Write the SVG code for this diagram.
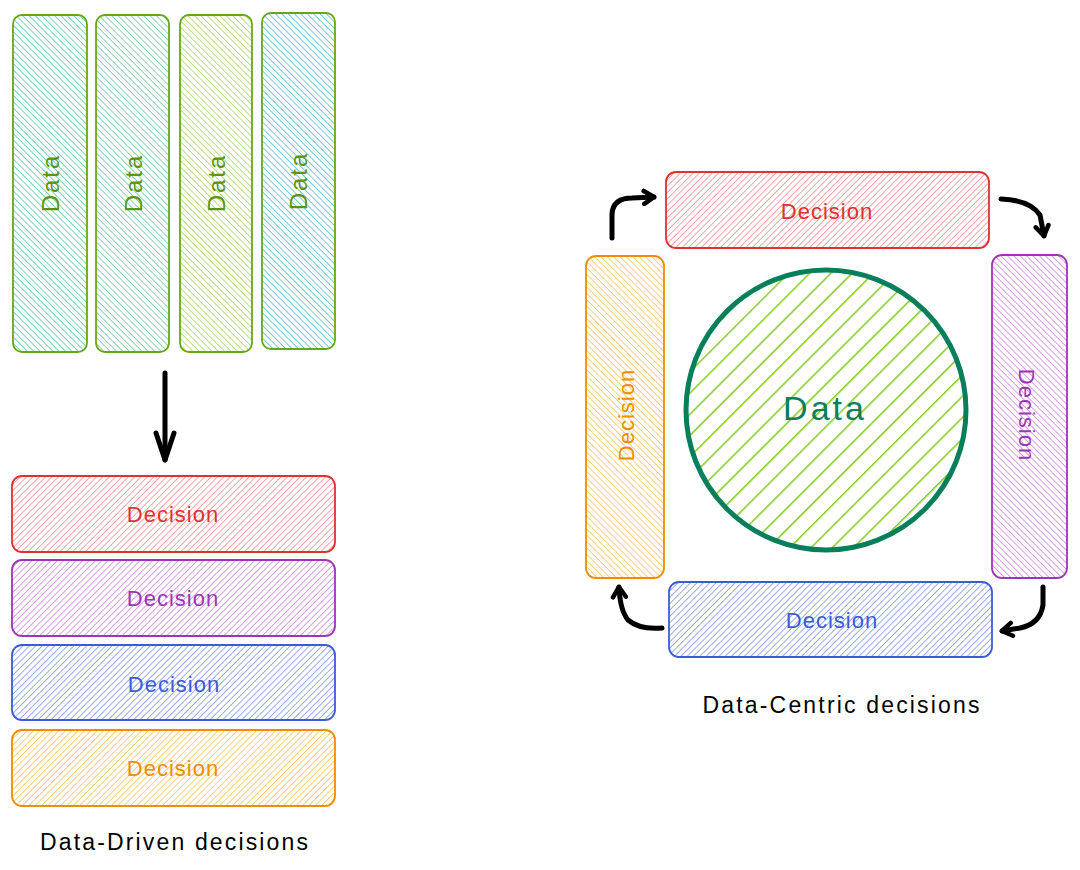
<svg xmlns="http://www.w3.org/2000/svg" width="1080" height="870" viewBox="0 0 1080 870">
  <defs>
    <pattern id="hTeal" patternUnits="userSpaceOnUse" width="4.5" height="4.5" patternTransform="rotate(-45)"><line x1="0" y1="0" x2="0" y2="4.5" stroke="#20b98c" stroke-width="1.2"/></pattern>
    <pattern id="hGreen" patternUnits="userSpaceOnUse" width="4.5" height="4.5" patternTransform="rotate(-45)"><line x1="0" y1="0" x2="0" y2="4.5" stroke="#40b87a" stroke-width="1.2"/></pattern>
    <pattern id="hLime" patternUnits="userSpaceOnUse" width="4.5" height="4.5" patternTransform="rotate(-45)"><line x1="0" y1="0" x2="0" y2="4.5" stroke="#8cc836" stroke-width="1.2"/></pattern>
    <pattern id="hCyan" patternUnits="userSpaceOnUse" width="4.5" height="4.5" patternTransform="rotate(-45)"><line x1="0" y1="0" x2="0" y2="4.5" stroke="#1fa6cf" stroke-width="1.2"/></pattern>
    <pattern id="hRed" patternUnits="userSpaceOnUse" width="4.5" height="4.5" patternTransform="rotate(45)"><line x1="0" y1="0" x2="0" y2="4.5" stroke="#ef6b6b" stroke-width="1.2"/></pattern>
    <pattern id="hPurple" patternUnits="userSpaceOnUse" width="4.5" height="4.5" patternTransform="rotate(45)"><line x1="0" y1="0" x2="0" y2="4.5" stroke="#bd63d4" stroke-width="1.2"/></pattern>
    <pattern id="hBlue" patternUnits="userSpaceOnUse" width="4.5" height="4.5" patternTransform="rotate(45)"><line x1="0" y1="0" x2="0" y2="4.5" stroke="#5577e6" stroke-width="1.2"/></pattern>
    <pattern id="hOrange" patternUnits="userSpaceOnUse" width="4.5" height="4.5" patternTransform="rotate(45)"><line x1="0" y1="0" x2="0" y2="4.5" stroke="#f9b02c" stroke-width="1.2"/></pattern>
    <pattern id="hPurpleV" patternUnits="userSpaceOnUse" width="4.5" height="4.5" patternTransform="rotate(-45)"><line x1="0" y1="0" x2="0" y2="4.5" stroke="#bd63d4" stroke-width="1.2"/></pattern>
    <pattern id="hOrangeV" patternUnits="userSpaceOnUse" width="4.5" height="4.5" patternTransform="rotate(-45)"><line x1="0" y1="0" x2="0" y2="4.5" stroke="#f9b02c" stroke-width="1.2"/></pattern>
    <pattern id="hCircle" patternUnits="userSpaceOnUse" width="15" height="15" patternTransform="rotate(45)"><line x1="0" y1="0" x2="0" y2="15" stroke="#82c91e" stroke-width="3"/></pattern>
    <marker id="ah" markerWidth="18" markerHeight="18" refX="13" refY="9" orient="auto" markerUnits="userSpaceOnUse" viewBox="0 0 18 18">
      <path d="M3,2.5 L13,9 L3,15.5" fill="none" stroke="#000" stroke-width="4.5" stroke-linecap="round" stroke-linejoin="round"/>
    </marker>
    <marker id="ahBig" markerWidth="34" markerHeight="24" refX="30" refY="12" orient="auto" markerUnits="userSpaceOnUse" viewBox="0 0 34 24">
      <path d="M3,3 L30,12 L3,21" fill="none" stroke="#000" stroke-width="5" stroke-linecap="round" stroke-linejoin="round"/>
    </marker>
    <style>
      .lbl { font-family: "Liberation Sans", "DejaVu Sans", sans-serif; text-anchor: middle; dominant-baseline: central; }
      .cap { font-family: "Liberation Sans", "DejaVu Sans", sans-serif; font-size: 23px; fill: #000000; text-anchor: middle; dominant-baseline: central; }
      .box { stroke-width: 1.8; }
      .conn { fill: none; stroke: #000; stroke-width: 5; stroke-linecap: round; stroke-linejoin: round; }
    </style>
  </defs>
  <rect width="1080" height="870" fill="#ffffff"/>

  <!-- Left: data columns -->
  <g id="data1"><rect class="box" x="13" y="15" width="74" height="337" rx="9" fill="url(#hTeal)" stroke="#66a80f"/><text class="lbl" font-size="24" fill="#5c940d" letter-spacing="2" transform="translate(50,183) rotate(-90)">Data</text></g>
  <g id="data2"><rect class="box" x="96" y="15" width="73" height="337" rx="9" fill="url(#hGreen)" stroke="#66a80f"/><text class="lbl" font-size="24" fill="#5c940d" letter-spacing="2" transform="translate(133,183) rotate(-90)">Data</text></g>
  <g id="data3"><rect class="box" x="180" y="15" width="72" height="337" rx="9" fill="url(#hLime)" stroke="#66a80f"/><text class="lbl" font-size="24" fill="#5c940d" letter-spacing="2" transform="translate(216,183) rotate(-90)">Data</text></g>
  <g id="data4"><rect class="box" x="262" y="13" width="73" height="336" rx="9" fill="url(#hCyan)" stroke="#66a80f"/><text class="lbl" font-size="24" fill="#5c940d" letter-spacing="2" transform="translate(298,181) rotate(-90)">Data</text></g>

  <!-- Left: decisions -->
  <g id="decL1"><rect class="box" x="12" y="476" width="323" height="76" rx="10" fill="url(#hRed)" stroke="#e03131"/><text class="lbl" x="173" y="514" font-size="22" fill="#e03131" letter-spacing="1">Decision</text></g>
  <g id="decL2"><rect class="box" x="12" y="560" width="323" height="76" rx="10" fill="url(#hPurple)" stroke="#9c36b5"/><text class="lbl" x="173" y="598" font-size="22" fill="#9c36b5" letter-spacing="1">Decision</text></g>
  <g id="decL3"><rect class="box" x="12" y="645" width="323" height="75" rx="10" fill="url(#hBlue)" stroke="#3b5bdb"/><text class="lbl" x="174" y="684" font-size="22" fill="#3b5bdb" letter-spacing="1">Decision</text></g>
  <g id="decL4"><rect class="box" x="12" y="730" width="323" height="76" rx="10" fill="url(#hOrange)" stroke="#f08c00"/><text class="lbl" x="173" y="768" font-size="22" fill="#f08c00" letter-spacing="1">Decision</text></g>
  <g id="capL"><text class="cap" x="174" y="842" textLength="268" lengthAdjust="spacing">Data-Driven decisions</text></g>

  <!-- Right -->
  <g id="decTop"><rect class="box" x="666" y="172" width="323" height="76" rx="10" fill="url(#hRed)" stroke="#e03131"/><text class="lbl" x="827" y="211" font-size="22" fill="#e03131" letter-spacing="1">Decision</text></g>
  <g id="decRight"><rect class="box" x="992" y="255" width="75" height="323" rx="10" fill="url(#hPurpleV)" stroke="#9c36b5"/><text class="lbl" font-size="22" fill="#9c36b5" letter-spacing="1" transform="translate(1026,415) rotate(90)">Decision</text></g>
  <g id="decBottom"><rect class="box" x="669" y="582" width="323" height="75" rx="10" fill="url(#hBlue)" stroke="#3b5bdb"/><text class="lbl" x="832" y="620" font-size="22" fill="#3b5bdb" letter-spacing="1">Decision</text></g>
  <g id="decLeft"><rect class="box" x="586" y="256" width="78" height="322" rx="10" fill="url(#hOrangeV)" stroke="#f08c00"/><text class="lbl" font-size="22" fill="#f08c00" letter-spacing="1" transform="translate(626,415) rotate(-90)">Decision</text></g>
  <g id="dataCircle"><circle cx="826" cy="410" r="140" fill="url(#hCircle)" stroke="#087f5b" stroke-width="5"/><text class="lbl" x="825" y="408" font-size="34" fill="#087f5b" letter-spacing="3">Data</text></g>
  <g id="capR"><text class="cap" x="841" y="705" textLength="277" lengthAdjust="spacing">Data-Centric decisions</text></g>

  <!-- connectors -->
  <g id="connectors">
    <path class="conn" d="M165,373 L165,460" marker-end="url(#ahBig)"/>
    <path class="conn" d="M612,238 L612,214 Q613,198 632,198 L654,197" marker-end="url(#ah)"/>
    <path class="conn" d="M1001,199 Q1030,200 1040,215 L1044,236" marker-end="url(#ah)"/>
    <path class="conn" d="M1043,587 L1043,605 Q1040,624 1020,628 L1002,631" marker-end="url(#ah)"/>
    <path class="conn" d="M662,628 Q640,630 628,620 Q620,610 619,587" marker-end="url(#ah)"/>
  </g>
</svg>
